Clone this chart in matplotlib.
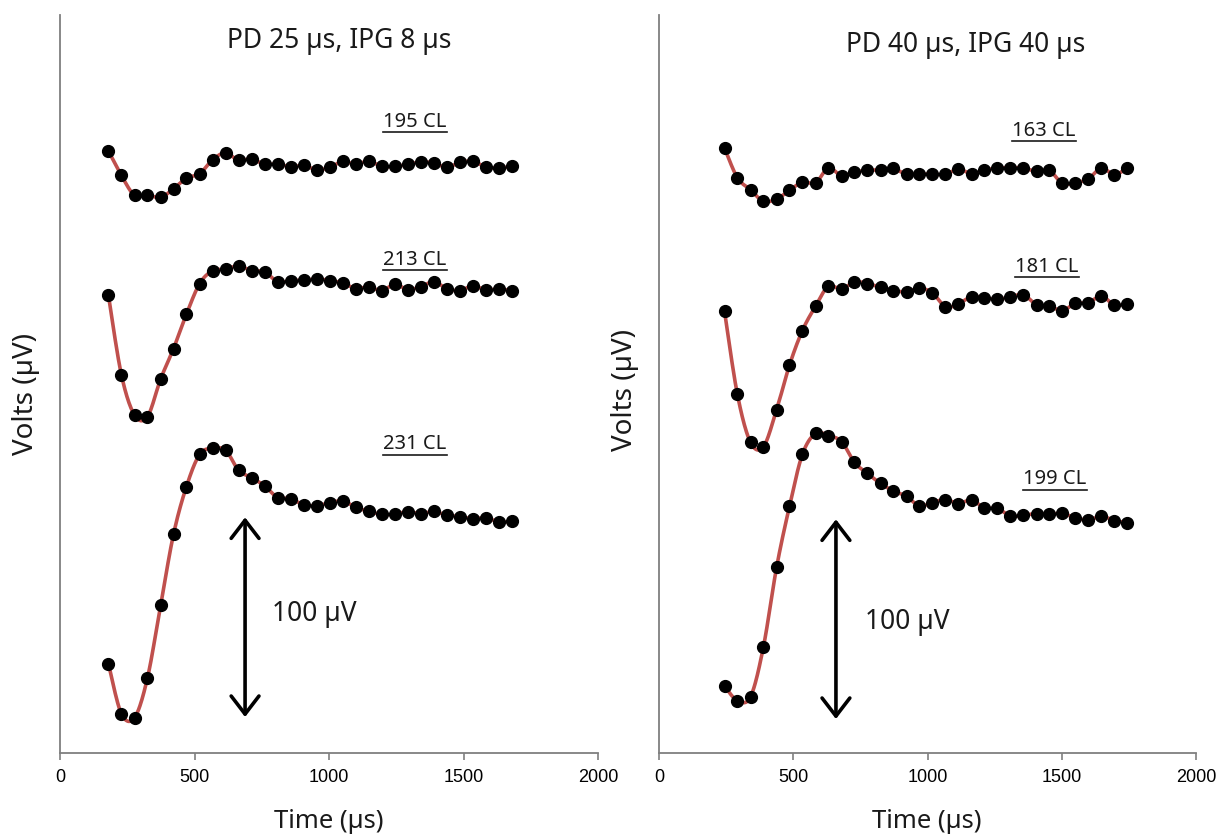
import matplotlib
matplotlib.use("Agg")
import matplotlib.pyplot as plt
from matplotlib.lines import Line2D
import numpy as np

# ── Data (time in µs, amplitude in µV, traces offset for display) ────────────

time_left = [180, 228, 277, 325, 374, 422, 470, 519, 567, 616, 664, 712, 761, 809, 858, 906,
             954, 1003, 1051, 1100, 1148, 1196, 1245, 1293, 1342, 1390, 1438, 1487, 1535, 1584, 1632, 1680]
time_right = [244, 292, 341, 389, 438, 486, 534, 583, 631, 680, 728, 776, 825, 873, 922, 970,
              1018, 1067, 1115, 1164, 1212, 1260, 1309, 1357, 1406, 1454, 1502, 1551, 1599, 1648, 1696, 1744]

cl195 = [301.4, 289.2, 279.2, 279.4, 278.2, 282.5, 287.9, 290.0, 297.0, 300.5, 296.7, 297.5, 294.7, 295.0, 293.4, 294.2,
         292.0, 293.2, 296.2, 294.7, 296.4, 293.7, 293.7, 294.7, 295.9, 295.4, 293.2, 295.7, 296.2, 293.4, 292.9, 293.7]
cl213 = [229.2, 189.5, 169.2, 168.4, 187.2, 202.5, 219.7, 235.0, 241.4, 242.2, 243.9, 241.5, 240.9, 235.9, 236.5, 236.7,
         237.4, 236.5, 235.4, 232.5, 233.4, 231.5, 234.7, 232.0, 233.5, 236.0, 232.5, 231.5, 234.0, 231.7, 232.5, 231.2]
cl231 = [44.7, 19.7, 17.7, 37.5, 73.9, 109.5, 133.4, 149.5, 152.5, 151.5, 141.5, 137.9, 133.7, 127.9, 127.4, 124.2,
         123.9, 125.2, 126.2, 123.0, 121.0, 119.5, 119.5, 120.9, 119.7, 121.0, 119.0, 118.4, 117.2, 117.9, 115.5, 116.2]

cl163 = [302.9, 288.0, 282.0, 276.2, 277.4, 281.7, 285.9, 285.4, 293.0, 289.0, 290.9, 291.7, 292.0, 292.7, 289.7, 290.0,
         289.7, 289.7, 292.4, 290.0, 291.7, 292.9, 293.0, 292.9, 291.2, 291.7, 285.2, 285.5, 287.5, 292.9, 289.5, 293.0]
cl181 = [221.2, 179.5, 155.5, 153.4, 171.9, 194.2, 211.5, 223.7, 233.7, 232.2, 235.9, 235.0, 233.2, 231.5, 231.0, 232.7,
         230.4, 223.4, 224.9, 228.5, 227.9, 227.2, 228.2, 229.5, 224.4, 223.7, 221.5, 225.2, 225.4, 228.9, 224.2, 225.0]
cl199 = [33.5, 26.2, 28.2, 53.2, 93.0, 123.5, 149.5, 160.0, 158.9, 155.9, 145.5, 140.0, 135.0, 131.2, 128.5, 123.7,
         125.4, 126.9, 124.9, 126.7, 122.7, 122.5, 118.7, 119.0, 119.9, 119.5, 120.0, 117.7, 116.7, 118.5, 116.4, 115.2]

titles = ["PD 25 µs, IPG 8 µs", "PD 40 µs, IPG 40 µs"]
left_labels = ["195 CL", "213 CL", "231 CL"]
right_labels = ["163 CL", "181 CL", "199 CL"]

RED = "#C0504D"
TXT = "#1a1a1a"
FONT = "Noto Sans"
W, H = 1218, 837


def smooth(x, y, n=20):
    # Excel-style smoothed line: cubic Bezier segments, Catmull-Rom control points
    p = np.column_stack([x, y]).astype(float)
    p = np.vstack([p[0], p, p[-1]])
    out = []
    for i in range(1, len(p) - 2):
        p0, p1, p2, p3 = p[i - 1], p[i], p[i + 1], p[i + 2]
        b1 = p1 + (p2 - p0) / 6
        b2 = p2 - (p3 - p1) / 6
        s = np.linspace(0, 1, n)[:, None]
        seg = (1 - s) ** 3 * p1 + 3 * (1 - s) ** 2 * s * b1 + 3 * (1 - s) * s ** 2 * b2 + s ** 3 * p2
        out.append(seg)
    c = np.vstack(out)
    return c[:, 0], c[:, 1]


fig = plt.figure(figsize=(W / 100, H / 100), dpi=100, facecolor="white")
ax_l = fig.add_axes([60 / W, 83 / H, 538 / W, 738 / H])
ax_r = fig.add_axes([659 / W, 83 / H, 537 / W, 738 / H])

panels = [
    (ax_l, time_left, [cl195, cl213, cl231], left_labels,
     [(1320, 316.5), (1320, 247.5), (1320, 155)], 688, (18, 118), (788, 70), (1037, 357)),
    (ax_r, time_right, [cl163, cl181, cl199], right_labels,
     [(1434, 312), (1445, 244), (1475, 137.5)], 659, (17, 117), (767, 66), (1143, 355)),
]

label_texts = []
for i, (ax, t, traces, labels, lab_pos, arrow_x, arrow_y, uv_pos, title_pos) in enumerate(panels):
    ax.set_xlim(0, 2000)
    ax.set_ylim(0, 369.5)
    for tr in traces:
        sx, sy = smooth(t, tr)
        ax.plot(sx, sy, color=RED, lw=2.6, solid_capstyle="round", zorder=2)
        ax.plot(t, tr, "o", color="black", ms=8.5, zorder=3)
    for lab, (lx, ly) in zip(labels, lab_pos):
        txt = ax.text(lx, ly, lab, ha="center", va="center", fontsize=14.5,
                      family=FONT, color=TXT)
        label_texts.append(txt)

    ax.annotate("", xy=(arrow_x, arrow_y[1]), xytext=(arrow_x, arrow_y[0]),
                arrowprops=dict(arrowstyle="<->,head_length=0.65,head_width=0.5",
                                mutation_scale=20, lw=2.6, color="black",
                                shrinkA=0, shrinkB=0))
    ax.text(uv_pos[0], uv_pos[1], "100 µV", ha="left", va="center", fontsize=19,
            family=FONT, color=TXT)
    ax.text(title_pos[0], title_pos[1], titles[i], ha="center", va="center",
            fontsize=19, family=FONT, color=TXT)

    ax.set_xticks([0, 500, 1000, 1500, 2000])
    ax.set_yticks([])
    ax.tick_params(axis="x", direction="out", length=5, width=1.2, color="#7f7f7f",
                   labelsize=13, pad=6)
    for lbl in ax.get_xticklabels():
        lbl.set_family("Liberation Sans")
    for side in ["top", "right"]:
        ax.spines[side].set_visible(False)
    for side in ["left", "bottom"]:
        ax.spines[side].set_color("#7f7f7f")
        ax.spines[side].set_linewidth(1.3)

for xc, yc in [(26, 394), (625, 390)]:
    fig.text(xc / W, 1 - yc / H, "Volts (µV)", rotation=90, ha="center", va="center",
             fontsize=20, family=FONT, color=TXT)
for xc in [329, 927]:
    fig.text(xc / W, 1 - 822 / H, "Time (µs)", ha="center", va="center",
             fontsize=18.5, family=FONT, color=TXT)

# underline the CL labels
fig.canvas.draw()
renderer = fig.canvas.get_renderer()
for txt in label_texts:
    bb = txt.get_window_extent(renderer)
    y = bb.y0 - 1.5
    fig.add_artist(Line2D([bb.x0 / W, bb.x1 / W], [y / H, y / H], transform=fig.transFigure,
                          color=TXT, lw=1.2))

fig.savefig("out.png", dpi=100, facecolor="white")
